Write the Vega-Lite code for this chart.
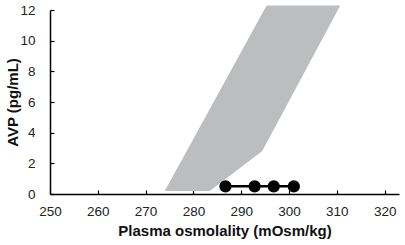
{
  "$schema": "https://vega.github.io/schema/vega-lite/v6.json",
  "width": 349,
  "height": 184,
  "autosize": "none",
  "padding": {"left": 50, "top": 10, "right": 6, "bottom": 51},
  "background": "white",
  "config": {
    "view": {"stroke": null},
    "axis": {
      "grid": false,
      "domainColor": "#000000",
      "domainWidth": 1.5,
      "tickColor": "#000000",
      "tickWidth": 1.2,
      "tickSize": -4,
      "labelOverlap": false,
      "labelFont": "Liberation Sans",
      "labelFontSize": 13.5,
      "labelColor": "#222222",
      "titleFont": "Liberation Sans",
      "titleFontSize": 15,
      "titleFontWeight": "bold",
      "titleColor": "#111111"
    }
  },
  "datasets": {
    "band": [
      {"avp": 0.2, "left": 274.0, "right": 283.4},
      {"avp": 2.8, "left": 278.6, "right": 294.4},
      {"avp": 12.3, "left": 295.3, "right": 310.7}
    ],
    "pts": [
      {"osm": 286.7, "avp": 0.5},
      {"osm": 292.8, "avp": 0.5},
      {"osm": 296.8, "avp": 0.5},
      {"osm": 301.0, "avp": 0.5}
    ]
  },
  "layer": [
    {
      "data": {"name": "band"},
      "mark": {"type": "area", "orient": "horizontal", "color": "#bcbdbf"},
      "encoding": {
        "y": {"field": "avp", "type": "quantitative",
              "scale": {"domain": [0, 12], "nice": false},
              "axis": {"values": [0, 2, 4, 6, 8, 10, 12], "tickCount": 7, "format": "d", "labelOverlap": false, "labelFlush": false, "title": "AVP (pg/mL)", "labelPadding": 19, "titlePadding": -1}},
        "x": {"field": "left", "type": "quantitative",
              "scale": {"domain": [250, 323], "nice": false},
              "axis": {"values": [250, 260, 270, 280, 290, 300, 310, 320], "tickCount": 8, "format": "d", "labelOverlap": false, "labelFlush": false, "title": "Plasma osmolality (mOsm/kg)", "labelPadding": 14, "titlePadding": 6}},
        "x2": {"field": "right"}
      }
    },
    {
      "data": {"name": "pts"},
      "mark": {"type": "line", "color": "#000000", "strokeWidth": 2.5},
      "encoding": {
        "x": {"field": "osm", "type": "quantitative"},
        "y": {"field": "avp", "type": "quantitative"}
      }
    },
    {
      "data": {"name": "pts"},
      "mark": {"type": "point", "filled": true, "color": "#000000", "opacity": 1, "size": 150},
      "encoding": {
        "x": {"field": "osm", "type": "quantitative"},
        "y": {"field": "avp", "type": "quantitative"}
      }
    }
  ]
}
